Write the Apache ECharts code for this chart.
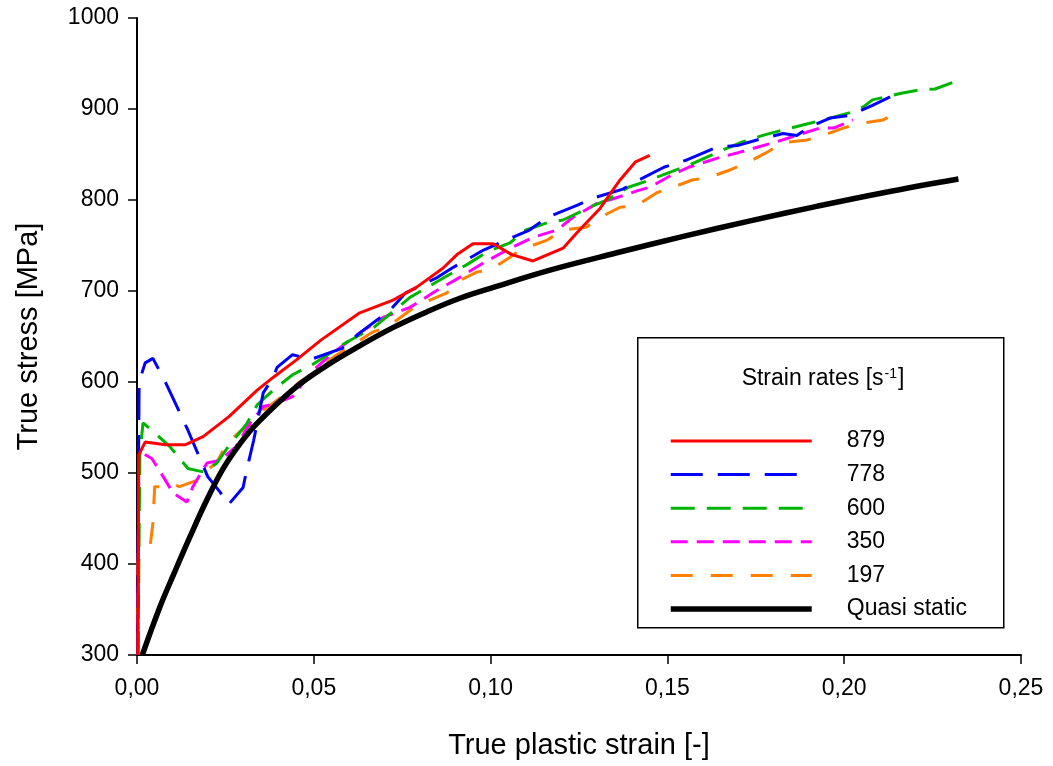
<!DOCTYPE html>
<html>
<head>
<meta charset="utf-8">
<script src="https://cdn.jsdelivr.net/npm/echarts@6/dist/echarts.min.js"></script>
<style>html,body{margin:0;padding:0;background:#fff}#c{width:1053px;height:766px}</style>
</head>
<body>
<div id="c"></div>
<script>
const seriesNames = ['879', '778', '600', '350', '197', 'Quasi static'];
const xTicks = [0, 0.05, 0.10, 0.15, 0.20, 0.25];
const yTicks = [300, 400, 500, 600, 700, 800, 900, 1000];

const redX = [0.0002,0.0005,0.0023,0.008,0.0136,0.0187,0.026,0.034,0.0385,0.045,0.052,0.063,0.0724,0.079,0.0865,0.0905,0.095,0.1007,0.106,0.112,0.1205,0.1244,0.131,0.1366,0.141,0.145];
const redY = [300,520,534,531,531,540,562,591,605,624,646,676,690,704,725,740,752,752,740,733,747,764,791,822,842,849];

const blueX = [0.0002,0.0004,0.0006,0.0023,0.0045,0.008,0.0102,0.0144,0.020,0.0235,0.0258,0.030,0.031,0.033,0.0357,0.0385,0.0396,0.044,0.047,0.05,0.058,0.063,0.0716,0.076,0.085,0.089,0.098,0.1027,0.111,0.116,0.1244,0.129,0.1374,0.142,0.149,0.1555,0.164,0.17,0.1753,0.1827,0.1866,0.19,0.196,0.2016,0.208,0.215];
const blueY = [300,490,600,621,626,600,582,547,496,479,465,484,503,536,588,605,616,630,627,626,637,654,679,698,715,725,745,753,767,781,794,802,812,822,836,844,858,860,866,873,871,880,890,893,904,917];

const greenX = [0.0003,0.0008,0.0017,0.0045,0.0093,0.0144,0.019,0.0226,0.026,0.031,0.034,0.0385,0.044,0.05,0.0594,0.067,0.0772,0.0865,0.0933,0.099,0.1055,0.110,0.116,0.1205,0.128,0.133,0.139,0.145,0.151,0.156,0.1657,0.1714,0.177,0.1827,0.19,0.197,0.2016,0.2053,0.208,0.2158,0.2214,0.2257,0.232];
const greenY = [300,520,555,546,529,505,501,511,530,554,575,591,608,620,644,660,693,714,729,743,753,767,775,778,792,800,814,822,831,838,855,864,871,877,884,891,896,902,910,917,921,922,931];

const magentaX = [0.0002,0.0005,0.001,0.0042,0.0074,0.0102,0.0141,0.0158,0.0198,0.0235,0.028,0.032,0.0357,0.0396,0.044,0.0498,0.0554,0.063,0.0696,0.0772,0.0837,0.0913,0.098,0.1046,0.112,0.1188,0.1233,0.13,0.136,0.1414,0.145,0.151,0.156,0.165,0.17,0.18,0.1866,0.193,0.197,0.2025];
const magentaY = [300,515,523,516,496,478,468,485,511,514,529,555,573,577,584,613,632,654,671,682,698,715,731,745,759,767,781,796,803,810,814,827,836,847,852,863,871,879,879,888];

const orangeX = [0.0002,0.0003,0.0037,0.0045,0.005,0.0065,0.0093,0.012,0.017,0.0198,0.0226,0.0255,0.029,0.034,0.0357,0.0396,0.046,0.05,0.0554,0.0667,0.0707,0.078,0.081,0.0877,0.0905,0.0962,0.0998,0.1055,0.1083,0.116,0.1205,0.127,0.131,0.1366,0.1414,0.147,0.1516,0.157,0.162,0.1677,0.1725,0.178,0.1827,0.1895,0.194,0.1997,0.2045,0.211,0.215];
const orangeY = [300,415,419,445,485,485,489,485,492,503,512,533,545,558,569,580,600,610,627,655,660,681,687,698,710,721,723,737,745,756,767,770,781,792,794,808,814,822,825,833,841,852,863,866,871,879,884,888,896];

const quasiX = [0.0015,0.0065,0.0103,0.015,0.0197,0.0244,0.0291,0.0338,0.0442,0.0536,0.0631,0.0725,0.0819,0.0913,0.1008,0.1168,0.1357,0.1545,0.1734,0.1922,0.2111,0.2323];
const quasiY = [300,353,388,430,470,505,532,554,592,618,640,660,677,692,704,723,742,760,777,793,808,823];

const pairs = (xs, ys) => xs.map((x, i) => [x, ys[i]]);

const styles = [
  {color:'#ff0000', width:3, type:'solid'},
  {color:'#0000ff', width:3, type:[32,15]},
  {color:'#00b400', width:3, type:[24,12]},
  {color:'#ff00ff', width:3, type:[17,9]},
  {color:'#ff8000', width:3, type:[22,18]},
  {color:'#000000', width:5.5, type:'solid'}
];
const dataSets = [pairs(redX,redY), pairs(blueX,blueY), pairs(greenX,greenY), pairs(magentaX,magentaY), pairs(orangeX,orangeY), pairs(quasiX,quasiY)];

const FONT = '"Liberation Sans", Arial, sans-serif';

const series = seriesNames.map((n, i) => ({
  name: n,
  type: 'line',
  data: dataSets[i],
  symbol: 'none',
  showSymbol: false,
  smooth: i === 5 ? 0.4 : false,
  clip: true,
  z: i === 5 ? 3 : 2 + (5 - i) * 0.01,
  lineStyle: {color: styles[i].color, width: styles[i].width, type: styles[i].type},
  itemStyle: {color: styles[i].color}
}));

const legendData = seriesNames.map((n, i) => ({
  name: n,
  lineStyle: {color: styles[i].color, width: styles[i].width, type: styles[i].type}
}));

const chart = echarts.init(document.getElementById('c'), null, {renderer: 'canvas'});
chart.setOption({
  backgroundColor: '#ffffff',
  animation: false,
  grid: {left: 137, right: 32, top: 18, bottom: 111, containLabel: false},
  xAxis: {
    type: 'value', min: xTicks[0], max: xTicks[xTicks.length - 1], interval: 0.05,
    name: 'True plastic strain [-]', nameLocation: 'middle', nameGap: 76,
    nameTextStyle: {fontFamily: FONT, fontSize: 29, color: '#000'},
    axisLine: {show: true, lineStyle: {color: '#000', width: 2}},
    axisTick: {show: true, inside: false, length: 9, lineStyle: {color: '#000', width: 1.5}},
    axisLabel: {margin: 22, fontFamily: FONT, fontSize: 23, color: '#000',
      formatter: v => v.toFixed(2).replace('.', ',')},
    splitLine: {show: false}
  },
  yAxis: {
    type: 'value', min: yTicks[0], max: yTicks[yTicks.length - 1], interval: 100,
    name: 'True stress [MPa]', nameLocation: 'middle', nameGap: 94,
    nameTextStyle: {fontFamily: FONT, fontSize: 29, color: '#000'},
    axisLine: {show: true, lineStyle: {color: '#000', width: 2}},
    axisTick: {show: true, inside: false, length: 9, lineStyle: {color: '#000', width: 1.5}},
    axisLabel: {margin: 18, fontFamily: FONT, fontSize: 23, color: '#000',
      formatter: v => String(Math.round(v))},
    splitLine: {show: false}
  },
  legend: {
    orient: 'vertical', left: 663, top: 424,
    itemWidth: 141, itemHeight: 14, itemGap: 9.6,
    data: legendData,
    selectedMode: false,
    itemStyle: {opacity: 0, borderWidth: 0},
    textStyle: {fontFamily: FONT, fontSize: 23, color: '#000', lineHeight: 24, padding: [0, 0, 0, 30]}
  },
  graphic: [
    {type: 'rect', left: 637, top: 337, z: 10, silent: true,
     shape: {width: 366, height: 290},
     style: {fill: 'rgba(0,0,0,0)', stroke: '#000', lineWidth: 1.5}},
    {type: 'text', z: 11, silent: true, x: 823, y: 379,
     style: {
       text: '{a|Strain rates [s}{b|-1}{a|]}',
       align: 'center', verticalAlign: 'middle',
       rich: {
         a: {fontFamily: FONT, fontSize: 23, fill: '#000', color: '#000'},
         b: {fontFamily: FONT, fontSize: 14, fill: '#000', color: '#000', verticalAlign: 'top', padding: [0, 1, 10, 1]}
       }
     }}
  ],
  series: series
});
</script>
</body>
</html>
